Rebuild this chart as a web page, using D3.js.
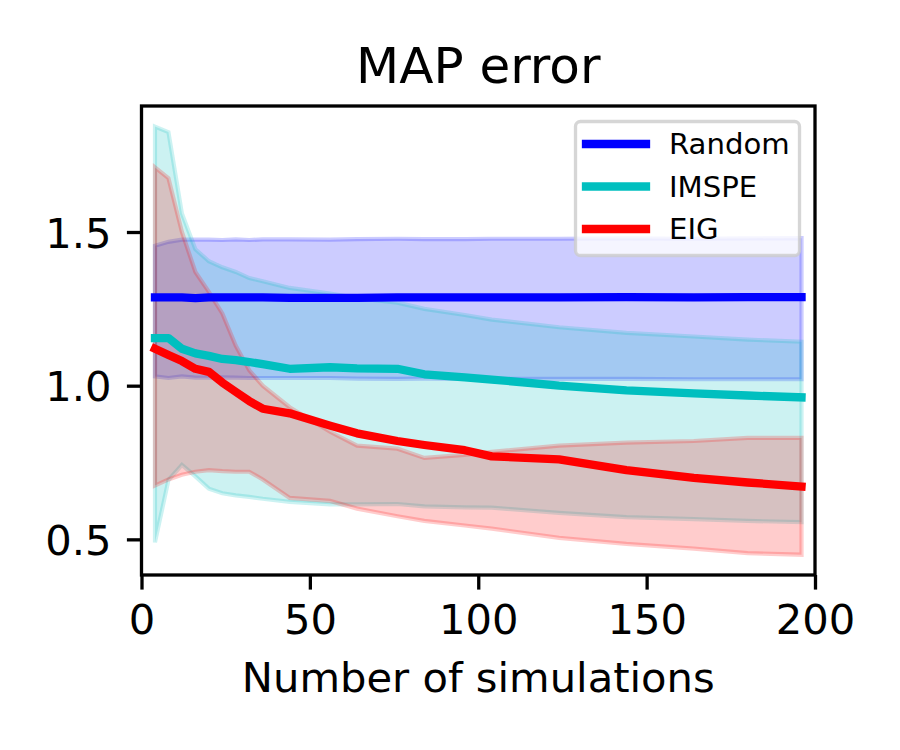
<!DOCTYPE html>
<html>
<head>
<meta charset="utf-8">
<script src="https://d3js.org/d3.v7.min.js"></script>
<style>
body { margin: 0; background: #fff; }
svg { display: block; }
text { font-family: "DejaVu Sans", sans-serif; fill: #000; }
</style>
</head>
<body>
<svg id="chart" width="900" height="750"></svg>
<script>
// values
const sims = [4, 8, 12, 16, 20, 24, 28, 32, 36, 44, 56, 64, 76, 84, 96, 104, 124, 144, 164, 180, 196];

const randomMean  = [1.287, 1.287, 1.287, 1.285, 1.287, 1.287, 1.287, 1.287, 1.287, 1.286, 1.286, 1.286, 1.287, 1.287, 1.287, 1.287, 1.287, 1.288, 1.287, 1.288, 1.288];
const randomUpper = [1.455, 1.468, 1.475, 1.475, 1.475, 1.474, 1.476, 1.474, 1.476, 1.476, 1.475, 1.477, 1.478, 1.477, 1.477, 1.478, 1.478, 1.479, 1.478, 1.479, 1.48];
const randomLower = [1.03, 1.025, 1.03, 1.026, 1.026, 1.027, 1.026, 1.025, 1.025, 1.025, 1.025, 1.023, 1.022, 1.023, 1.022, 1.022, 1.022, 1.022, 1.021, 1.021, 1.021];

const imspeMean  = [1.155, 1.155, 1.12, 1.105, 1.097, 1.087, 1.083, 1.077, 1.07, 1.055, 1.06, 1.056, 1.055, 1.037, 1.027, 1.02, 1.0, 0.985, 0.975, 0.968, 0.962];
const imspeUpper = [1.843, 1.825, 1.56, 1.444, 1.405, 1.385, 1.37, 1.35, 1.34, 1.318, 1.3, 1.285, 1.27, 1.25, 1.23, 1.215, 1.19, 1.172, 1.16, 1.15, 1.143];
const imspeLower = [0.49, 0.693, 0.742, 0.705, 0.665, 0.65, 0.643, 0.638, 0.632, 0.622, 0.614, 0.614, 0.615, 0.607, 0.604, 0.603, 0.586, 0.572, 0.566, 0.56, 0.556];

const eigMean  = [1.12, 1.1, 1.08, 1.055, 1.045, 1.01, 0.98, 0.95, 0.925, 0.91, 0.87, 0.845, 0.82, 0.807, 0.79, 0.77, 0.76, 0.725, 0.7, 0.685, 0.672];
const eigUpper = [1.71, 1.675, 1.5, 1.37, 1.305, 1.235, 1.13, 1.05, 1.0, 0.93, 0.85, 0.805, 0.795, 0.765, 0.775, 0.785, 0.805, 0.815, 0.82, 0.83, 0.83];
const eigLower = [0.675, 0.695, 0.71, 0.72, 0.725, 0.722, 0.72, 0.72, 0.695, 0.635, 0.625, 0.6, 0.575, 0.56, 0.545, 0.535, 0.505, 0.485, 0.47, 0.455, 0.45];

const seriesNames = ["Random", "IMSPE", "EIG"];
const seriesColors = ["#0000ff", "#00bfbf", "#ff0000"];
const means = [randomMean, imspeMean, eigMean];
const uppers = [randomUpper, imspeUpper, eigUpper];
const lowers = [randomLower, imspeLower, eigLower];

const xTicks = [0, 50, 100, 150, 200];
const yTicks = [0.5, 1.0, 1.5];

const svg = d3.select("#chart");

const plotLeft = 141.5, plotRight = 815, plotTop = 106, plotBottom = 575;

const x = d3.scaleLinear().domain([0, 200]).range([plotLeft, plotRight]);
const y = d3.scaleLinear().domain([0.384, 1.91]).range([plotBottom, plotTop]);

// bands first, lines go over them like in matplotlib
seriesNames.forEach(function(name, s) {
    const area = d3.area()
        .x(function(d, i) { return x(sims[i]); })
        .y0(function(d, i) { return y(lowers[s][i]); })
        .y1(function(d) { return y(d); });
    svg.append("path")
        .attr("d", area(uppers[s]) )
        .attr("fill", seriesColors[s])
        .attr("fill-opacity", 0.2)
        .attr("stroke", seriesColors[s])
        .attr("stroke-opacity", 0.2)
        .attr("stroke-width", 4.2);
});

const line = d3.line()
    .x(function(d, i) { return x(sims[i]); })
    .y(function(d) { return y(d); });

seriesNames.forEach(function(name, s) {
    svg.append("path")
        .attr("d", line(means[s]))
        .attr("fill", "none")
        .attr("stroke", seriesColors[s])
        .attr("stroke-width", 8.3)
        .attr("stroke-linecap", "square")
        .attr("stroke-linejoin", "round");
});

// axes
const xAxis = svg.append("g")
    .attr("transform", "translate(0," + plotBottom + ")")
    .call(d3.axisBottom(x).tickValues(xTicks).tickSize(14.6).tickPadding(15).tickFormat(d3.format("d")));
const yAxis = svg.append("g")
    .attr("transform", "translate(" + plotLeft + ",0)")
    .call(d3.axisLeft(y).tickValues(yTicks).tickSize(14.6).tickPadding(15.5).tickFormat(d3.format(".1f")));

[xAxis, yAxis].forEach(function(a) {
    a.select(".domain").remove();
    a.selectAll("line").attr("stroke", "#000").attr("stroke-width", 3.3);
    a.selectAll("text").attr("font-size", 41.67).attr("font-family", '"DejaVu Sans", sans-serif').attr("fill", "#000");
});
yAxis.selectAll("text").attr("dy", "0.36em");

// frame
svg.append("rect")
    .attr("x", plotLeft).attr("y", plotTop)
    .attr("width", plotRight - plotLeft).attr("height", plotBottom - plotTop)
    .attr("fill", "none")
    .attr("stroke", "#000")
    .attr("stroke-width", 3.3);

svg.append("text")
    .attr("x", (plotLeft + plotRight) / 2).attr("y", 82.5)
    .attr("text-anchor", "middle")
    .attr("font-size", 50)
    .text("MAP error");

svg.append("text")
    .attr("x", (plotLeft + plotRight) / 2).attr("y", 691.5)
    .attr("text-anchor", "middle")
    .attr("font-size", 41.67)
    .text("Number of simulations");

// legend
const legend = svg.append("g");
legend.append("rect")
    .attr("x", 575.5).attr("y", 121.5)
    .attr("width", 224).attr("height", 134)
    .attr("rx", 5)
    .attr("fill", "#fff").attr("fill-opacity", 0.8)
    .attr("stroke", "#ccc").attr("stroke-opacity", 0.8)
    .attr("stroke-width", 3.3);

const legendY = d3.scalePoint().domain(seriesNames).range([144, 229]);

seriesNames.forEach(function(name, s) {
    legend.append("line")
        .attr("x1", 586).attr("x2", 646)
        .attr("y1", legendY(name)).attr("y2", legendY(name))
        .attr("stroke", seriesColors[s])
        .attr("stroke-width", 8.3)
        .attr("stroke-linecap", "square");
    legend.append("text")
        .attr("x", 669).attr("y", legendY(name) + 10)
        .attr("font-size", 29.17)
        .text(name);
});
</script>
</body>
</html>
